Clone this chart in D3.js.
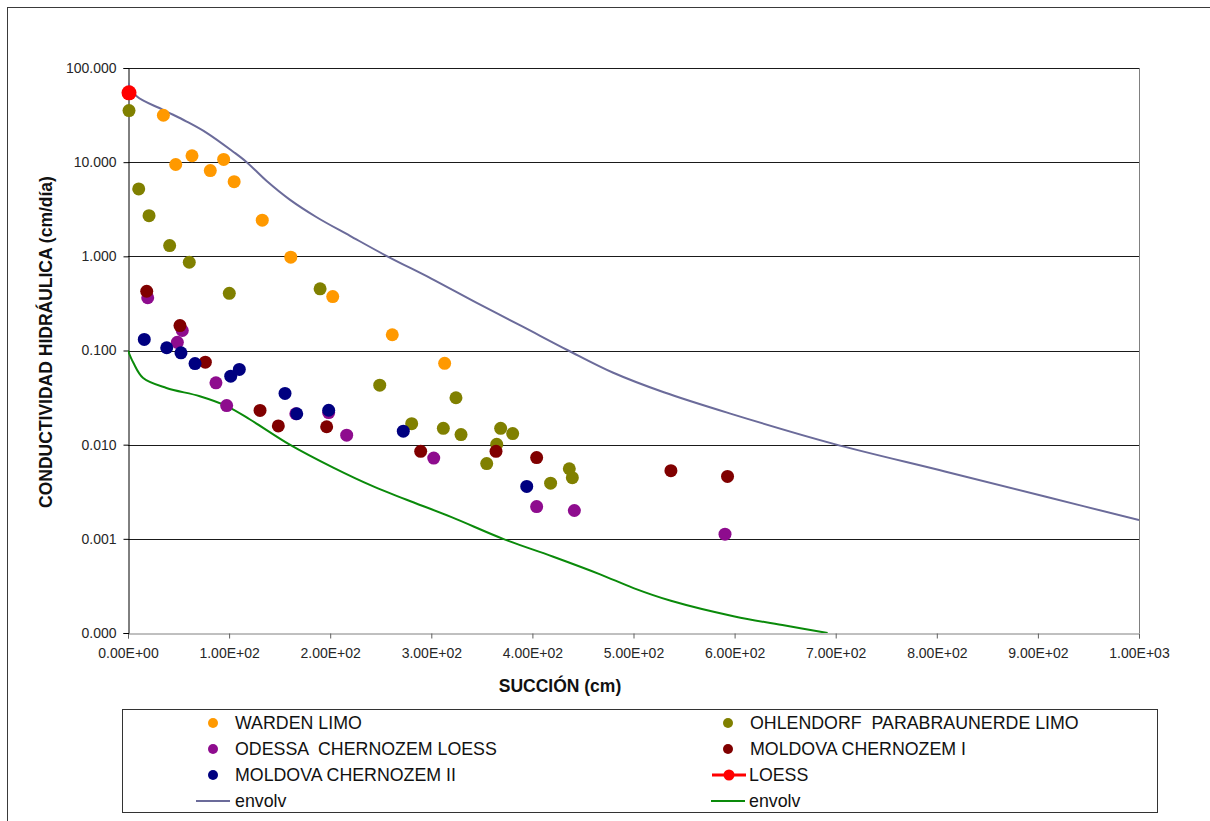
<!DOCTYPE html>
<html>
<head>
<meta charset="utf-8">
<script src="https://cdn.jsdelivr.net/npm/d3@7"></script>
<style>
  html, body { margin: 0; padding: 0; background: #fff; }
  svg { display: block; font-family: "Liberation Sans", Arial, sans-serif; }
</style>
</head>
<body>
<div id="chart"></div>
<script>
// ---------- DATA ----------
const yTicks = [0.0001, 0.001, 0.01, 0.1, 1, 10, 100];
const xTicks = [0, 100, 200, 300, 400, 500, 600, 700, 800, 900, 1000];

const wardenX = [35, 47.2, 63.3, 81.4, 94.6, 105, 132.8, 161, 202.5, 261.4, 313.2];
const wardenY = [31.5, 9.45, 11.7, 8.15, 10.7, 6.2, 2.42, 0.98, 0.374, 0.147, 0.073];

const ohlX = [1, 10.6, 20.8, 41.2, 60.6, 100.2, 190, 249, 280.6, 311.9, 324.4, 329.4, 354.8, 364.7, 368.6, 380.5, 418, 436.5, 439.5];
const ohlY = [35.3, 5.2, 2.7, 1.3, 0.865, 0.405, 0.452, 0.0428, 0.0167, 0.0149, 0.0315, 0.0128, 0.0063, 0.0101, 0.0149, 0.0131, 0.0039, 0.00555, 0.00446];

const odeX = [19.5, 48.8, 53.7, 87, 97.6, 166, 198.5, 216.3, 302.4, 404.2, 441.5, 590.5];
const odeY = [0.363, 0.122, 0.163, 0.0454, 0.026, 0.0213, 0.0219, 0.0126, 0.0072, 0.0022, 0.0020, 0.00112];

const mol1X = [18.5, 51.4, 76.5, 130.6, 148.7, 196.5, 289.5, 364, 404.2, 537, 593];
const mol1Y = [0.426, 0.184, 0.0751, 0.0231, 0.0158, 0.0155, 0.0085, 0.0085, 0.0073, 0.0053, 0.0046];

const mol2X = [16.1, 38.3, 52.4, 66.3, 101.6, 110.1, 155.3, 166.9, 198.5, 272.3, 394.4];
const mol2Y = [0.131, 0.107, 0.0945, 0.0727, 0.0534, 0.063, 0.035, 0.0213, 0.0232, 0.0139, 0.0036];

const loessX = [1];
const loessY = [54.5];

const envUX = [0, 8.6, 34.6, 58, 77.8, 103.7, 117.4, 137.2, 160, 186.6, 219.6, 256.5, 300, 345, 390, 435.5, 480, 530, 595, 698, 808, 908, 1000];
const envUY = [69.5, 50, 36, 27, 20.5, 13, 10, 6.3, 4.0, 2.6, 1.65, 1.0, 0.58, 0.32, 0.18, 0.1, 0.058, 0.036, 0.0215, 0.0102, 0.0052, 0.0028, 0.00158];

const envLX = [0, 5.3, 15, 38, 71, 97.6, 120.7, 160, 203, 242.6, 275.6, 320, 371, 420, 467, 500, 537, 600, 650, 692];
const envLY = [0.1, 0.074, 0.051, 0.040, 0.0327, 0.0257, 0.0185, 0.010, 0.0057, 0.0036, 0.0026, 0.0017, 0.001, 0.00065, 0.00042, 0.0003, 0.00022, 0.00015, 0.00012, 0.0001];

const seriesNames = ["WARDEN LIMO", "OHLENDORF  PARABRAUNERDE LIMO", "ODESSA  CHERNOZEM LOESS",
  "MOLDOVA CHERNOZEM I", "MOLDOVA CHERNOZEM II", "LOESS", "envolv", "envolv"];
const xTitle = "SUCCIÓN (cm)";
const yTitle = "CONDUCTIVIDAD HIDRÁULICA (cm/día)";

// ---------- STYLE ----------
const W = 1210, H = 821;
const plot = { left: 128, right: 1139, top: 68, bottom: 633 };
const colors = ["#FF9900", "#808000", "#8E0C8E", "#800000", "#000080", "#FF0000", "#6B6B9A", "#0A8A0A"];

const svg = d3.select("#chart").append("svg").attr("width", W).attr("height", H);
svg.append("rect").attr("width", W).attr("height", H).attr("fill", "#fff");
// outer frame (extends beyond the window on right/bottom)
svg.append("rect").attr("x", 7.5).attr("y", 7.5).attr("width", 1300).attr("height", 900)
  .attr("fill", "none").attr("stroke", "#3a3a3a").attr("stroke-width", 1);

const x = d3.scaleLinear().domain([0, 1000]).range([plot.left, plot.right]);
const y = d3.scaleLog().domain([0.0001, 100]).range([plot.bottom, plot.top]);

const crisp = v => Math.round(v) + 0.5;

// gridlines
svg.append("g").selectAll("line").data(yTicks.filter(t => t > 0.0001)).join("line")
  .attr("x1", plot.left).attr("x2", plot.right)
  .attr("y1", d => crisp(y(d))).attr("y2", d => crisp(y(d)))
  .attr("stroke", "#1a1a1a").attr("stroke-width", 1);

// right border
svg.append("line").attr("x1", crisp(plot.right)).attr("x2", crisp(plot.right))
  .attr("y1", plot.top).attr("y2", plot.bottom).attr("stroke", "#808080");

// x axis
const fmtE = v => {
  const s = v.toExponential(2).toUpperCase();
  return s.replace(/E([+-])(\d)$/, "E$10$2");
};
const xAxis = d3.axisBottom(x).tickValues(xTicks).tickSize(5).tickPadding(10).tickFormat(fmtE);
const gx = svg.append("g").attr("transform", `translate(0,${crisp(y(0.0001))})`).call(xAxis);
gx.select(".domain").attr("stroke", "#808080");
gx.selectAll(".tick line").attr("stroke", "#606060");
gx.selectAll(".tick text").attr("font-size", 14).attr("fill", "#262626")
  .attr("font-family", "'Liberation Sans', Arial, sans-serif");

// y axis
const yAxis = d3.axisLeft(y).tickValues(yTicks).tickSize(5).tickPadding(7).tickFormat(d3.format(".3f"));
const gy = svg.append("g").attr("transform", `translate(${crisp(plot.left)},0)`).call(yAxis);
gy.select(".domain").attr("stroke", "#000");
gy.selectAll(".tick line").attr("stroke", "#000");
gy.selectAll(".tick text").attr("font-size", 14).attr("fill", "#262626")
  .attr("font-family", "'Liberation Sans', Arial, sans-serif");

// titles
svg.append("text").attr("x", 560).attr("y", 692).attr("text-anchor", "middle")
  .attr("font-size", 17.5).attr("font-weight", "bold").attr("fill", "#111").text(xTitle);
svg.append("text").attr("transform", "translate(52,342) rotate(-90)").attr("text-anchor", "middle")
  .attr("font-size", 17.5).attr("font-weight", "bold").attr("fill", "#111").text(yTitle);

// clip
svg.append("clipPath").attr("id", "clip").append("rect")
  .attr("x", plot.left).attr("y", plot.top - 20).attr("width", plot.right - plot.left).attr("height", plot.bottom - plot.top + 20);

const zip = (xs, ys) => xs.map((v, i) => [v, ys[i]]);
const line = d3.line().x(d => x(d[0])).y(d => y(d[1])).curve(d3.curveCatmullRom.alpha(0.5));

const gLines = svg.append("g").attr("clip-path", "url(#clip)");
gLines.append("path").attr("d", line(zip(envUX, envUY))).attr("fill", "none")
  .attr("stroke", colors[6]).attr("stroke-width", 2);
gLines.append("path").attr("d", line(zip(envLX, envLY))).attr("fill", "none")
  .attr("stroke", colors[7]).attr("stroke-width", 2);

const scatterSets = [
  [wardenX, wardenY], [ohlX, ohlY], [odeX, odeY], [mol1X, mol1Y], [mol2X, mol2Y]
];
scatterSets.forEach((s, i) => {
  svg.append("g").selectAll("circle").data(zip(s[0], s[1])).join("circle")
    .attr("cx", d => x(d[0])).attr("cy", d => y(d[1])).attr("r", 6.5).attr("fill", colors[i]);
});
svg.append("g").selectAll("circle").data(zip(loessX, loessY)).join("circle")
  .attr("cx", d => x(d[0])).attr("cy", d => y(d[1])).attr("r", 7.5).attr("fill", colors[5]);

// ---------- LEGEND ----------
const lg = svg.append("g");
lg.append("rect").attr("x", 122.5).attr("y", 709.5).attr("width", 1035).attr("height", 103)
  .attr("fill", "#fff").attr("stroke", "#333").attr("stroke-width", 1);
const rowsY = [723, 749, 775, 801];
const colMarker = [213, 728];
const colText = [235, 750];
const items = seriesNames.map((name, i) => ({ name, i, col: i % 2, row: Math.floor(i / 2) }));
items.forEach(it => {
  const cy = rowsY[it.row];
  const mx = colMarker[it.col];
  if (it.i < 5) {
    lg.append("circle").attr("cx", mx).attr("cy", cy).attr("r", 5).attr("fill", colors[it.i]);
  } else if (it.i === 5) {
    lg.append("line").attr("x1", mx - 16).attr("x2", mx + 18).attr("y1", cy).attr("y2", cy)
      .attr("stroke", colors[5]).attr("stroke-width", 3);
    lg.append("circle").attr("cx", mx + 1).attr("cy", cy).attr("r", 5.5).attr("fill", colors[5]);
  } else {
    lg.append("line").attr("x1", mx - 17).attr("x2", mx + 17).attr("y1", cy).attr("y2", cy)
      .attr("stroke", colors[it.i]).attr("stroke-width", 2);
  }
  lg.append("text").attr("x", it.i >= 5 ? colText[it.col] - (it.col === 0 ? 0 : 1) : colText[it.col])
    .attr("y", cy + 6).attr("font-size", 17.8).attr("fill", "#111")
    .style("white-space", "pre").text(it.name);
});
</script>
</body>
</html>
